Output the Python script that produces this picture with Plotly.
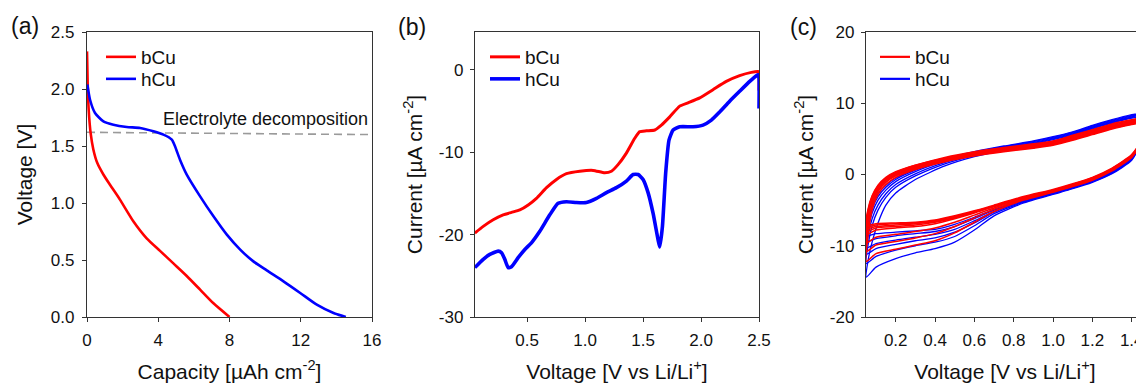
import plotly.graph_objects as go

# page body has an 8px margin: the figure is drawn from page pixel (8, 8)
OFF = 8
W, H = 1144 - OFF, 385 - OFF
FONT = "Arial, Liberation Sans, sans-serif"
RED = "#FF0000"
BLUE = "#0000FF"
AX = "#333333"

# ---------------- Panel (a): discharge curves ----------------
cap_bcu = [0.0, 0.037, 0.094, 0.206, 0.356, 0.58, 0.918, 1.29, 1.85, 2.60, 3.35, 4.10, 4.85, 5.60, 6.35, 7.10, 8.0]
volt_bcu = [2.33, 2.05, 1.82, 1.61, 1.47, 1.35, 1.25, 1.16, 1.03, 0.84, 0.69, 0.58, 0.47, 0.36, 0.24, 0.12, 0.0]
cap_hcu = [0.02, 0.17, 0.45, 0.92, 1.48, 2.23, 2.98, 3.73, 4.29, 4.76, 4.94, 5.22, 5.60, 6.35, 7.10,
           7.85, 8.60, 9.34, 10.09, 11.03, 11.97, 12.90, 13.84, 14.53]
volt_hcu = [2.04, 1.906, 1.79, 1.716, 1.687, 1.667, 1.658, 1.629, 1.60, 1.556, 1.497, 1.38, 1.249, 1.058,
            0.883, 0.722, 0.591, 0.488, 0.409, 0.313, 0.211, 0.108, 0.035, 0.0]
decomp_x = [0, 16]
decomp_y = [1.62, 1.60]

# ---------------- Panel (b): LSV ----------------
v_b_bcu = [0.049, 0.121, 0.207, 0.293, 0.365, 0.437, 0.509, 0.580, 0.667, 0.753, 0.839, 0.954, 1.069, 1.170,
           1.227, 1.284, 1.356, 1.428, 1.471, 1.529, 1.601, 1.658, 1.730, 1.816, 1.888, 1.989, 2.103, 2.218,
           2.333, 2.434, 2.491, 2.499, 2.5]
i_b_bcu = [-19.8, -19.0, -18.2, -17.6, -17.3, -17.0, -16.4, -15.6, -14.3, -13.3, -12.6, -12.3, -12.2, -12.5,
           -12.3, -11.5, -10.1, -8.3, -7.5, -7.4, -7.3, -6.7, -5.7, -4.4, -4.0, -3.4, -2.4, -1.4,
           -0.7, -0.3, -0.2, -0.3, -2.5]
v_b_hcu = [0.049, 0.121, 0.178, 0.250, 0.279, 0.307, 0.336, 0.365, 0.422, 0.480, 0.537, 0.609, 0.695, 0.767,
           0.839, 0.925, 1.011, 1.098, 1.184, 1.270, 1.356, 1.414, 1.457, 1.500, 1.543, 1.586, 1.629, 1.644,
           1.667, 1.695, 1.724, 1.759, 1.816, 1.931, 2.017, 2.089, 2.161, 2.247, 2.333, 2.420, 2.477, 2.491,
           2.499, 2.5]
i_b_hcu = [-24.0, -23.0, -22.4, -22.0, -22.2, -23.0, -24.0, -23.9, -22.8, -21.8, -21.0, -19.6, -17.6, -16.2,
           -16.0, -16.1, -16.1, -15.6, -14.9, -14.3, -13.5, -12.7, -12.7, -13.3, -14.9, -17.4, -20.6, -21.5,
           -19.0, -12.5, -8.5, -7.3, -6.9, -6.9, -6.7, -6.1, -5.1, -3.8, -2.6, -1.4, -0.7, -0.6,
           -0.8, -4.7]

# ---------------- Panel (c): CV cycles ----------------
v_up = [0.05, 0.06, 0.08, 0.11, 0.15, 0.2, 0.3, 0.45, 0.6, 0.75, 0.9, 1.0, 1.1, 1.2, 1.3, 1.4, 1.5]
v_down = [1.5, 1.47, 1.44, 1.4, 1.3, 1.2, 1.1, 1.0, 0.85, 0.7, 0.6, 0.5, 0.4, 0.3, 0.2, 0.1, 0.05]

hcu_up = [
    [-14.4, -12.0, -9.5, -6.8, -4.3, -2.6, -0.7, 1.2, 2.5, 3.4, 4.1, 4.7, 5.5, 6.4, 7.2, 7.9, 8.4],
    [-12.5, -9.8, -7.2, -5.0, -3.2, -1.8, -0.2, 1.5, 2.7, 3.6, 4.3, 4.9, 5.6, 6.5, 7.3, 8.0, 8.5],
    [-11.2, -8.5, -6.2, -4.3, -2.7, -1.4, 0.1, 1.7, 2.9, 3.7, 4.4, 5.0, 5.7, 6.6, 7.4, 8.1, 8.6],
    [-10.3, -7.6, -5.4, -3.6, -2.2, -1.0, 0.4, 1.9, 3.0, 3.8, 4.5, 5.1, 5.8, 6.7, 7.5, 8.2, 8.7],
    [-9.4, -6.8, -4.8, -3.1, -1.8, -0.7, 0.6, 2.0, 3.1, 3.9, 4.6, 5.2, 5.9, 6.8, 7.6, 8.3, 8.8],
    [-8.6, -6.2, -4.3, -2.7, -1.5, -0.5, 0.8, 2.2, 3.2, 4.0, 4.7, 5.3, 6.0, 6.9, 7.7, 8.4, 8.9],
]
hcu_down = [
    [8.4, 6.4, 4.0, 2.0, 0.1, -1.1, -2.0, -2.8, -4.0, -5.8, -7.8, -9.5, -10.4, -11.0, -11.8, -13.0, -14.4],
    [8.5, 6.5, 4.1, 2.1, 0.2, -1.0, -1.9, -2.7, -3.9, -5.5, -7.2, -8.7, -9.5, -10.0, -10.6, -11.5, -12.5],
    [8.6, 6.5, 4.1, 2.2, 0.3, -0.9, -1.8, -2.6, -3.8, -5.3, -6.8, -8.1, -8.9, -9.3, -9.8, -10.4, -11.2],
    [8.7, 6.6, 4.2, 2.3, 0.4, -0.8, -1.7, -2.5, -3.7, -5.2, -6.5, -7.7, -8.4, -8.8, -9.2, -9.7, -10.3],
    [8.8, 6.7, 4.3, 2.4, 0.5, -0.7, -1.6, -2.4, -3.6, -5.0, -6.2, -7.3, -8.0, -8.3, -8.6, -9.0, -9.4],
    [8.9, 6.8, 4.4, 2.5, 0.6, -0.6, -1.5, -2.3, -3.5, -4.9, -6.0, -7.0, -7.7, -7.9, -8.1, -8.3, -8.6],
]
bcu_up = [
    [-12.2, -8.5, -5.0, -2.8, -1.4, -0.4, 0.7, 1.8, 2.6, 3.2, 3.7, 4.1, 4.8, 5.6, 6.4, 7.0, 7.5],
    [-10.8, -7.2, -4.4, -2.4, -1.1, -0.2, 0.8, 1.9, 2.7, 3.3, 3.8, 4.2, 4.9, 5.7, 6.5, 7.1, 7.7],
    [-9.6, -6.4, -4.0, -2.2, -1.0, -0.1, 0.9, 2.0, 2.8, 3.4, 3.9, 4.3, 5.0, 5.8, 6.6, 7.2, 7.8],
    [-8.4, -5.8, -3.7, -2.0, -0.8, 0.0, 1.0, 2.1, 2.9, 3.5, 4.0, 4.4, 5.1, 5.9, 6.7, 7.3, 7.9],
    [-8.0, -5.5, -3.5, -1.9, -0.7, 0.1, 1.1, 2.2, 3.0, 3.6, 4.1, 4.5, 5.2, 6.0, 6.8, 7.4, 8.0],
    [-7.6, -5.2, -3.3, -1.7, -0.6, 0.2, 1.2, 2.3, 3.0, 3.6, 4.1, 4.6, 5.3, 6.1, 6.9, 7.5, 8.1],
    [-7.3, -5.0, -3.1, -1.6, -0.5, 0.3, 1.3, 2.3, 3.1, 3.7, 4.2, 4.6, 5.4, 6.2, 7.0, 7.6, 8.2],
    [-7.1, -4.8, -3.0, -1.5, -0.4, 0.4, 1.3, 2.4, 3.2, 3.8, 4.3, 4.7, 5.5, 6.3, 7.1, 7.7, 8.3],
]
bcu_down = [
    [7.5, 6.2, 4.0, 2.4, 0.5, -0.8, -1.7, -2.5, -3.6, -5.2, -6.7, -8.2, -9.3, -9.9, -10.5, -11.1, -12.2],
    [7.7, 6.3, 4.1, 2.5, 0.6, -0.7, -1.6, -2.4, -3.5, -4.9, -6.1, -7.3, -8.3, -8.9, -9.4, -9.9, -10.8],
    [7.8, 6.4, 4.1, 2.5, 0.6, -0.7, -1.6, -2.4, -3.4, -4.7, -5.7, -6.7, -7.5, -8.0, -8.4, -8.8, -9.6],
    [7.9, 6.5, 4.2, 2.6, 0.7, -0.6, -1.5, -2.3, -3.3, -4.5, -5.4, -6.2, -6.9, -7.3, -7.5, -7.8, -8.4],
    [8.0, 6.5, 4.2, 2.6, 0.7, -0.6, -1.5, -2.3, -3.3, -4.5, -5.3, -6.1, -6.7, -7.1, -7.3, -7.5, -8.0],
    [8.1, 6.6, 4.3, 2.7, 0.8, -0.5, -1.4, -2.2, -3.2, -4.4, -5.2, -6.0, -6.6, -6.9, -7.1, -7.3, -7.6],
    [8.2, 6.6, 4.3, 2.7, 0.8, -0.5, -1.4, -2.2, -3.2, -4.4, -5.2, -5.9, -6.5, -6.8, -6.9, -7.1, -7.3],
    [8.3, 6.7, 4.4, 2.8, 0.9, -0.4, -1.3, -2.1, -3.1, -4.3, -5.1, -5.8, -6.4, -6.7, -6.8, -6.9, -7.1],
]

# tick labels
a_xticks = [0, 4, 8, 12, 16]
a_yticks = [0.0, 0.5, 1.0, 1.5, 2.0, 2.5]
b_xticks = [0.5, 1.0, 1.5, 2.0, 2.5]
b_yticks = [-30, -20, -10, 0]
c_xticks = [0.2, 0.4, 0.6, 0.8, 1.0, 1.2, 1.4]
c_yticks = [-20, -10, 0, 10, 20]

fig = go.Figure()

# Panel (a)
fig.add_trace(go.Scatter(x=decomp_x, y=decomp_y, mode="lines", showlegend=False,
                         line=dict(color="#9a9a9a", width=1.6, dash="8px,5px"), xaxis="x", yaxis="y"))
fig.add_trace(go.Scatter(x=cap_bcu, y=volt_bcu, mode="lines", name="bCu", legend="legend",
                         line=dict(color=RED, width=2.6, shape="spline", smoothing=0.6), xaxis="x", yaxis="y"))
fig.add_trace(go.Scatter(x=cap_hcu, y=volt_hcu, mode="lines", name="hCu", legend="legend2",
                         line=dict(color=BLUE, width=2.6, shape="spline", smoothing=0.6), xaxis="x", yaxis="y"))

# Panel (b)
fig.add_trace(go.Scatter(x=v_b_bcu, y=i_b_bcu, mode="lines", name="bCu", legend="legend3",
                         line=dict(color=RED, width=3, shape="spline", smoothing=0.5), xaxis="x2", yaxis="y2"))
fig.add_trace(go.Scatter(x=v_b_hcu, y=i_b_hcu, mode="lines", name="hCu", legend="legend4",
                         line=dict(color=BLUE, width=3.6, shape="spline", smoothing=0.5), xaxis="x2", yaxis="y2"))

# Panel (c)
for up, down in zip(hcu_up, hcu_down):
    fig.add_trace(go.Scatter(x=v_up + v_down, y=up + down, mode="lines", showlegend=False,
                             line=dict(color=BLUE, width=1.3, shape="spline", smoothing=0.6),
                             xaxis="x3", yaxis="y3"))
for up, down in zip(bcu_up, bcu_down):
    fig.add_trace(go.Scatter(x=v_up + v_down, y=up + down, mode="lines", showlegend=False,
                             line=dict(color=RED, width=1.5, shape="spline", smoothing=0.6),
                             xaxis="x3", yaxis="y3"))
fig.add_trace(go.Scatter(x=[None], y=[None], mode="lines", name="bCu", legend="legend5",
                         line=dict(color=RED, width=2.2), xaxis="x3", yaxis="y3"))
fig.add_trace(go.Scatter(x=[None], y=[None], mode="lines", name="hCu", legend="legend6",
                         line=dict(color=BLUE, width=2.2), xaxis="x3", yaxis="y3"))


def px_x(p):
    return (p - OFF) / W


def px_y(p):
    return 1 - (p - OFF) / H


Y_DOM = [px_y(317), px_y(32)]
tickfont = dict(family=FONT, size=17, color="#111111")
titlefont = dict(family=FONT, size=21, color="#111111")

common = dict(showline=True, linecolor=AX, linewidth=1.3, ticks="outside", ticklen=4, tickcolor=AX,
              tickwidth=1.2, showgrid=False, zeroline=False, tickfont=tickfont, automargin=False)

fig.update_layout(
    xaxis=dict(domain=[px_x(87), px_x(372)], range=[0, 16], tickvals=a_xticks, anchor="y", mirror=True,
               ticklabelstandoff=3,
               title=dict(text="Capacity [µAh cm<sup>-2</sup>]", font=titlefont, standoff=15), **common),
    yaxis=dict(domain=Y_DOM, range=[0, 2.5], tickvals=a_yticks, tickformat=".1f", anchor="x", mirror=True,
               ticklabelstandoff=4,
               title=dict(text="Voltage [V]", font=titlefont, standoff=12), **common),
    xaxis2=dict(domain=[px_x(475), px_x(759)], range=[0.05, 2.5], tickvals=b_xticks, tickformat=".1f",
                anchor="y2", mirror=True, ticklabelstandoff=3,
                title=dict(text="Voltage [V vs Li/Li<sup>+</sup>]", font=titlefont, standoff=15), **common),
    yaxis2=dict(domain=Y_DOM, range=[-30, 4.6], tickvals=b_yticks, ticktext=[str(v) for v in b_yticks],
                anchor="x2", mirror=True, ticklabelstandoff=3,
                title=dict(text="Current [µA cm<sup>-2</sup>]", font=titlefont, standoff=10), **common),
    xaxis3=dict(domain=[px_x(866), 1.0], range=[0.049, 1.4626], tickvals=c_xticks, tickformat=".1f",
                anchor="y3", mirror=True, ticklabelstandoff=3,
                title=dict(text="Voltage [V vs Li/Li<sup>+</sup>]", font=titlefont, standoff=15), **common),
    yaxis3=dict(domain=Y_DOM, range=[-20, 20], tickvals=c_yticks, ticktext=[str(v) for v in c_yticks],
                anchor="x3", mirror=False, ticklabelstandoff=3,
                title=dict(text="Current [µA cm<sup>-2</sup>]", font=titlefont, standoff=10), **common),
)

legfont = dict(family=FONT, size=19, color="#111111")


def leg(xp, yp):
    return dict(x=px_x(xp), y=px_y(yp), xanchor="left", yanchor="middle", bgcolor="rgba(0,0,0,0)",
                borderwidth=0, font=legfont, itemwidth=30)


fig.update_layout(
    legend=leg(101, 57), legend2=leg(101, 79),
    legend3=leg(485, 57), legend4=leg(485, 79),
    legend5=leg(875, 57), legend6=leg(875, 79),
)

annfont = dict(family=FONT, size=23, color="#111111")
fig.update_layout(annotations=[
    dict(text="(a)", x=px_x(25), y=px_y(26), xref="paper", yref="paper", showarrow=False, font=annfont,
         xanchor="center", yanchor="middle"),
    dict(text="(b)", x=px_x(412), y=px_y(27), xref="paper", yref="paper", showarrow=False, font=annfont,
         xanchor="center", yanchor="middle"),
    dict(text="(c)", x=px_x(803), y=px_y(27), xref="paper", yref="paper", showarrow=False, font=annfont,
         xanchor="center", yanchor="middle"),
    dict(text="Electrolyte decomposition", x=4.15, y=1.737, xref="x", yref="y", showarrow=False,
         font=dict(family=FONT, size=18, color="#111111"), xanchor="left", yanchor="middle"),
])

fig.update_layout(width=W, height=H, margin=dict(l=0, r=0, t=0, b=0, autoexpand=False),
                  paper_bgcolor="white", plot_bgcolor="white", showlegend=True)

fig.write_html("out.html")
